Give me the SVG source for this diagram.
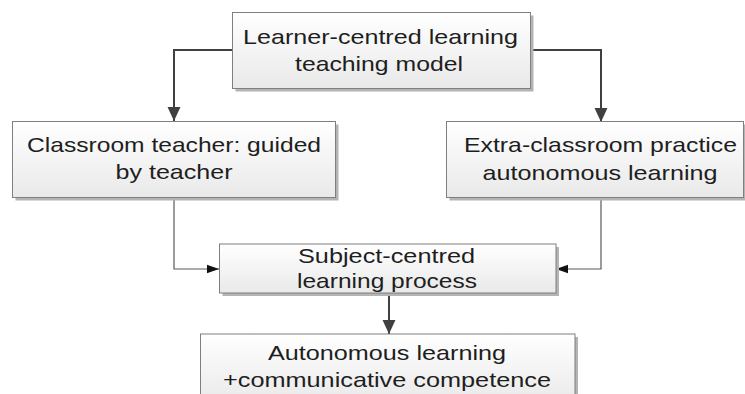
<svg xmlns="http://www.w3.org/2000/svg" width="745" height="394" viewBox="0 0 745 394">
<style>
.box{stroke:#7f7f7f;stroke-width:1;fill:url(#g)}
.sh{fill:#b4b4b4}
.t{font-family:"Liberation Sans",Arial,sans-serif;font-size:21px;fill:#1e1e1e;text-anchor:middle}
.thick{fill:none;stroke:#404040;stroke-width:2}
.thin{fill:none;stroke:#5a5a5a;stroke-width:1.2}
</style>
<defs>
<linearGradient id="g" x1="0" y1="0" x2="0" y2="1">
<stop offset="0" stop-color="#ffffff"/>
<stop offset="1" stop-color="#e9e9e9"/>
</linearGradient>
<marker id="big" markerUnits="userSpaceOnUse" markerWidth="14" markerHeight="14" viewBox="0 0 13 12" refX="13" refY="6" orient="auto">
<path d="M0,0 L13,6 L0,12 Z" fill="#404040"/>
</marker>
<marker id="small" markerUnits="userSpaceOnUse" markerWidth="12" markerHeight="10" viewBox="0 0 11 8" refX="11" refY="4" orient="auto">
<path d="M0,0 L11,4 L0,8 Z" fill="#111111"/>
</marker>
</defs>
<g id="connectors">
<path class="thick" d="M232,50 H174 V121" marker-end="url(#big)"/>
<path class="thick" d="M531,50 H601 V122" marker-end="url(#big)"/>
<path class="thin" d="M174,198 V269 H219" marker-end="url(#small)"/>
<path class="thin" d="M601,198 V269 H556" marker-end="url(#small)"/>
<path class="thick" d="M389,294 V334" marker-end="url(#big)"/>
</g>
<g id="top">
<rect class="sh" x="235.5" y="15.5" width="298" height="76"/>
<rect class="box" x="232.5" y="12.5" width="298" height="76"/>
<text class="t" x="380.5" y="44" textLength="275" lengthAdjust="spacingAndGlyphs">Learner-centred learning</text>
<text class="t" x="379" y="71" textLength="168" lengthAdjust="spacingAndGlyphs">teaching model</text>
</g>
<g id="classroom">
<rect class="sh" x="15.5" y="124.5" width="323" height="76"/>
<rect class="box" x="12.5" y="121.5" width="323" height="76"/>
<text class="t" x="174" y="152" textLength="294" lengthAdjust="spacingAndGlyphs">Classroom teacher: guided</text>
<text class="t" x="174" y="179" textLength="117" lengthAdjust="spacingAndGlyphs">by teacher</text>
</g>
<g id="extra">
<rect class="sh" x="449.5" y="124.5" width="297" height="76"/>
<rect class="box" x="446.5" y="121.5" width="297" height="76"/>
<text class="t" x="600.5" y="152" textLength="273" lengthAdjust="spacingAndGlyphs">Extra-classroom practice</text>
<text class="t" x="600" y="180" textLength="235" lengthAdjust="spacingAndGlyphs">autonomous learning</text>
</g>
<g id="subject">
<rect class="sh" x="222.5" y="247" width="336.5" height="49"/>
<rect class="box" x="219.5" y="244" width="336.5" height="49"/>
<text class="t" x="386.5" y="263" textLength="177" lengthAdjust="spacingAndGlyphs">Subject-centred</text>
<text class="t" x="387" y="288" textLength="180" lengthAdjust="spacingAndGlyphs">learning process</text>
</g>
<g id="outcome">
<rect class="sh" x="203.5" y="337" width="374.5" height="70"/>
<rect class="box" x="200.5" y="334" width="374.5" height="70"/>
<text class="t" x="387" y="360" textLength="238" lengthAdjust="spacingAndGlyphs">Autonomous learning</text>
<text class="t" x="387" y="387" textLength="328" lengthAdjust="spacingAndGlyphs">+communicative competence</text>
</g>
</svg>
